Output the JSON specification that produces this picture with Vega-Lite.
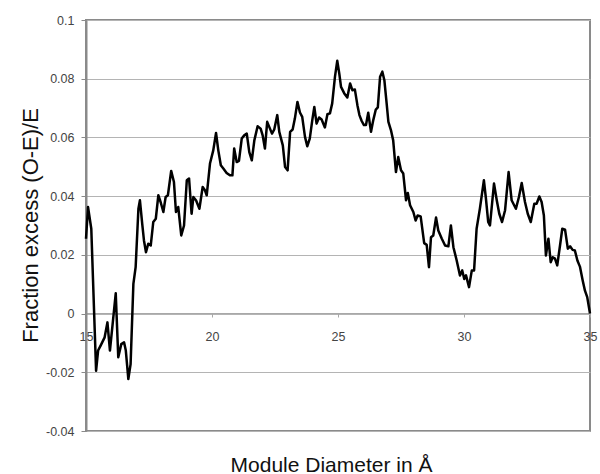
{
  "$schema": "https://vega.github.io/schema/vega-lite/v6.json",
  "autosize": "none",
  "padding": {"left": 86, "top": 20, "right": 10, "bottom": 43},
  "width": 504,
  "height": 411,
  "background": "white",
  "config": {
    "font": "Liberation Sans",
    "view": {"stroke": "#8a8a8a", "strokeWidth": 2}
  },
  "data": {
    "values": [
      {"d": 15.00, "f": 0.0255}, {"d": 15.08, "f": 0.0363}, {"d": 15.21, "f": 0.0289},
      {"d": 15.40, "f": -0.0195}, {"d": 15.48, "f": -0.0126}, {"d": 15.58, "f": -0.0109},
      {"d": 15.74, "f": -0.0081}, {"d": 15.85, "f": -0.0030}, {"d": 15.95, "f": -0.0126},
      {"d": 16.18, "f": 0.0069}, {"d": 16.28, "f": -0.0149}, {"d": 16.40, "f": -0.0104},
      {"d": 16.51, "f": -0.0098}, {"d": 16.58, "f": -0.0126}, {"d": 16.68, "f": -0.0223},
      {"d": 16.77, "f": -0.0172}, {"d": 16.88, "f": 0.0101}, {"d": 16.97, "f": 0.0158},
      {"d": 17.08, "f": 0.0357}, {"d": 17.14, "f": 0.0386}, {"d": 17.23, "f": 0.0306},
      {"d": 17.30, "f": 0.0249}, {"d": 17.38, "f": 0.0209}, {"d": 17.47, "f": 0.0238},
      {"d": 17.57, "f": 0.0232}, {"d": 17.67, "f": 0.0312}, {"d": 17.77, "f": 0.0323},
      {"d": 17.87, "f": 0.0403}, {"d": 17.96, "f": 0.0380}, {"d": 18.07, "f": 0.0346},
      {"d": 18.16, "f": 0.0397}, {"d": 18.25, "f": 0.0403}, {"d": 18.38, "f": 0.0486},
      {"d": 18.49, "f": 0.0448}, {"d": 18.57, "f": 0.0346}, {"d": 18.66, "f": 0.0363},
      {"d": 18.78, "f": 0.0266}, {"d": 18.89, "f": 0.0300}, {"d": 19.00, "f": 0.0454},
      {"d": 19.09, "f": 0.0460}, {"d": 19.19, "f": 0.0340}, {"d": 19.26, "f": 0.0397},
      {"d": 19.37, "f": 0.0385}, {"d": 19.50, "f": 0.0357}, {"d": 19.63, "f": 0.0431},
      {"d": 19.72, "f": 0.0420}, {"d": 19.79, "f": 0.0403}, {"d": 19.92, "f": 0.0511},
      {"d": 20.05, "f": 0.0556}, {"d": 20.16, "f": 0.0615}, {"d": 20.25, "f": 0.0556},
      {"d": 20.35, "f": 0.0505}, {"d": 20.45, "f": 0.0494}, {"d": 20.58, "f": 0.0479},
      {"d": 20.71, "f": 0.0471}, {"d": 20.81, "f": 0.0471}, {"d": 20.88, "f": 0.0562},
      {"d": 20.98, "f": 0.0516}, {"d": 21.07, "f": 0.0520}, {"d": 21.18, "f": 0.0596},
      {"d": 21.28, "f": 0.0607}, {"d": 21.38, "f": 0.0613}, {"d": 21.48, "f": 0.0550},
      {"d": 21.58, "f": 0.0522}, {"d": 21.68, "f": 0.0590}, {"d": 21.81, "f": 0.0638},
      {"d": 21.93, "f": 0.0630}, {"d": 22.01, "f": 0.0607}, {"d": 22.10, "f": 0.0562},
      {"d": 22.19, "f": 0.0653}, {"d": 22.30, "f": 0.0630}, {"d": 22.38, "f": 0.0613},
      {"d": 22.47, "f": 0.0627}, {"d": 22.59, "f": 0.0676}, {"d": 22.67, "f": 0.0619},
      {"d": 22.81, "f": 0.0573}, {"d": 22.90, "f": 0.0499}, {"d": 23.00, "f": 0.0488},
      {"d": 23.10, "f": 0.0619}, {"d": 23.20, "f": 0.0627}, {"d": 23.29, "f": 0.0665},
      {"d": 23.39, "f": 0.0721}, {"d": 23.49, "f": 0.0685}, {"d": 23.58, "f": 0.0670},
      {"d": 23.69, "f": 0.0602}, {"d": 23.78, "f": 0.0570}, {"d": 23.88, "f": 0.0596},
      {"d": 23.98, "f": 0.0659}, {"d": 24.06, "f": 0.0704}, {"d": 24.15, "f": 0.0647},
      {"d": 24.25, "f": 0.0668}, {"d": 24.35, "f": 0.0661}, {"d": 24.48, "f": 0.0634},
      {"d": 24.58, "f": 0.0679}, {"d": 24.68, "f": 0.0682}, {"d": 24.77, "f": 0.0716},
      {"d": 24.88, "f": 0.0807}, {"d": 24.97, "f": 0.0861}, {"d": 25.05, "f": 0.0818},
      {"d": 25.12, "f": 0.0772}, {"d": 25.25, "f": 0.0750}, {"d": 25.37, "f": 0.0736},
      {"d": 25.48, "f": 0.0784}, {"d": 25.57, "f": 0.0761}, {"d": 25.67, "f": 0.0763},
      {"d": 25.77, "f": 0.0710}, {"d": 25.85, "f": 0.0676}, {"d": 25.94, "f": 0.0656},
      {"d": 26.03, "f": 0.0642}, {"d": 26.11, "f": 0.0642}, {"d": 26.20, "f": 0.0684},
      {"d": 26.31, "f": 0.0619}, {"d": 26.40, "f": 0.0659}, {"d": 26.50, "f": 0.0695},
      {"d": 26.58, "f": 0.0702}, {"d": 26.67, "f": 0.0807}, {"d": 26.76, "f": 0.0824},
      {"d": 26.84, "f": 0.0795}, {"d": 26.93, "f": 0.0716}, {"d": 27.00, "f": 0.0653},
      {"d": 27.10, "f": 0.0625}, {"d": 27.19, "f": 0.0590}, {"d": 27.30, "f": 0.0482},
      {"d": 27.39, "f": 0.0533}, {"d": 27.50, "f": 0.0488}, {"d": 27.59, "f": 0.0477},
      {"d": 27.70, "f": 0.0386}, {"d": 27.77, "f": 0.0411}, {"d": 27.86, "f": 0.0369},
      {"d": 27.99, "f": 0.0346}, {"d": 28.08, "f": 0.0317}, {"d": 28.16, "f": 0.0334},
      {"d": 28.28, "f": 0.0331}, {"d": 28.42, "f": 0.0240}, {"d": 28.52, "f": 0.0234},
      {"d": 28.61, "f": 0.0158}, {"d": 28.69, "f": 0.0260}, {"d": 28.78, "f": 0.0266},
      {"d": 28.89, "f": 0.0327}, {"d": 28.98, "f": 0.0283}, {"d": 29.12, "f": 0.0255},
      {"d": 29.25, "f": 0.0232}, {"d": 29.38, "f": 0.0229}, {"d": 29.48, "f": 0.0300},
      {"d": 29.58, "f": 0.0226}, {"d": 29.71, "f": 0.0181}, {"d": 29.84, "f": 0.0130},
      {"d": 29.93, "f": 0.0147}, {"d": 30.01, "f": 0.0118}, {"d": 30.08, "f": 0.0130},
      {"d": 30.20, "f": 0.0090}, {"d": 30.31, "f": 0.0147}, {"d": 30.40, "f": 0.0147},
      {"d": 30.50, "f": 0.0289}, {"d": 30.63, "f": 0.0357}, {"d": 30.79, "f": 0.0454},
      {"d": 30.87, "f": 0.0392}, {"d": 30.96, "f": 0.0312}, {"d": 31.03, "f": 0.0300},
      {"d": 31.19, "f": 0.0443}, {"d": 31.30, "f": 0.0386}, {"d": 31.40, "f": 0.0340},
      {"d": 31.51, "f": 0.0312}, {"d": 31.63, "f": 0.0352}, {"d": 31.77, "f": 0.0482},
      {"d": 31.89, "f": 0.0386}, {"d": 32.06, "f": 0.0357}, {"d": 32.18, "f": 0.0397},
      {"d": 32.29, "f": 0.0445}, {"d": 32.42, "f": 0.0380}, {"d": 32.53, "f": 0.0340},
      {"d": 32.65, "f": 0.0312}, {"d": 32.79, "f": 0.0374}, {"d": 32.88, "f": 0.0374},
      {"d": 32.99, "f": 0.0399}, {"d": 33.08, "f": 0.0380}, {"d": 33.17, "f": 0.0334},
      {"d": 33.25, "f": 0.0198}, {"d": 33.35, "f": 0.0255}, {"d": 33.44, "f": 0.0175},
      {"d": 33.52, "f": 0.0192}, {"d": 33.61, "f": 0.0187}, {"d": 33.70, "f": 0.0164},
      {"d": 33.81, "f": 0.0232}, {"d": 33.90, "f": 0.0289}, {"d": 34.01, "f": 0.0286},
      {"d": 34.12, "f": 0.0221}, {"d": 34.21, "f": 0.0229}, {"d": 34.31, "f": 0.0217},
      {"d": 34.40, "f": 0.0215}, {"d": 34.50, "f": 0.0181}, {"d": 34.60, "f": 0.0160},
      {"d": 34.71, "f": 0.0113}, {"d": 34.80, "f": 0.0078}, {"d": 34.89, "f": 0.0056},
      {"d": 35.00, "f": 0.0000}
    ]
  },
  "mark": {"type": "line", "color": "black", "strokeWidth": 2.5, "strokeJoin": "round"},
  "encoding": {
    "x": {
      "field": "d",
      "type": "quantitative",
      "scale": {"domain": [15, 35], "nice": false, "zero": false},
      "axis": {
        "values": [15, 20, 25, 30, 35],
        "title": "Module Diameter in Å",
        "offset": -118,
        "grid": false,
        "domainColor": "#a8a8a8",
        "domainWidth": 1,
        "tickColor": "#a8a8a8",
        "tickSize": 4,
        "labelFlush": false,
        "labelOverlap": false,
        "labelPadding": 13,
        "labelFontSize": 12.5,
        "labelColor": "#444444",
        "labelFont": "Liberation Sans",
        "titleFont": "Liberation Sans",
        "titleFontSize": 21,
        "titleFontWeight": "normal",
        "titleColor": "#111111",
        "titleX": 245,
        "titleY": 158,
        "titleAlign": "center",
        "titleBaseline": "alphabetic"
      }
    },
    "y": {
      "field": "f",
      "type": "quantitative",
      "scale": {"domain": [-0.04, 0.1], "nice": false, "zero": false},
      "axis": {
        "values": [-0.04, -0.02, 0, 0.02, 0.04, 0.06, 0.08, 0.1],
        "labelExpr": "replace(format(datum.value, '~g'), '\u2212', '-')",
        "title": "Fraction excess (O-E)/E",
        "grid": true,
        "gridColor": "#b4b4b4",
        "gridWidth": 1,
        "domainColor": "#8a8a8a",
        "domainWidth": 2,
        "tickColor": "#8a8a8a",
        "tickSize": 5,
        "labelPadding": 7,
        "labelFontSize": 12.5,
        "labelColor": "#444444",
        "labelFont": "Liberation Sans",
        "titleFont": "Liberation Sans",
        "titleFontSize": 22,
        "titleFontWeight": "normal",
        "titleColor": "#111111",
        "titleAngle": -90,
        "titleX": -49,
        "titleY": 205,
        "titleAlign": "center",
        "titleBaseline": "alphabetic"
      }
    }
  }
}
